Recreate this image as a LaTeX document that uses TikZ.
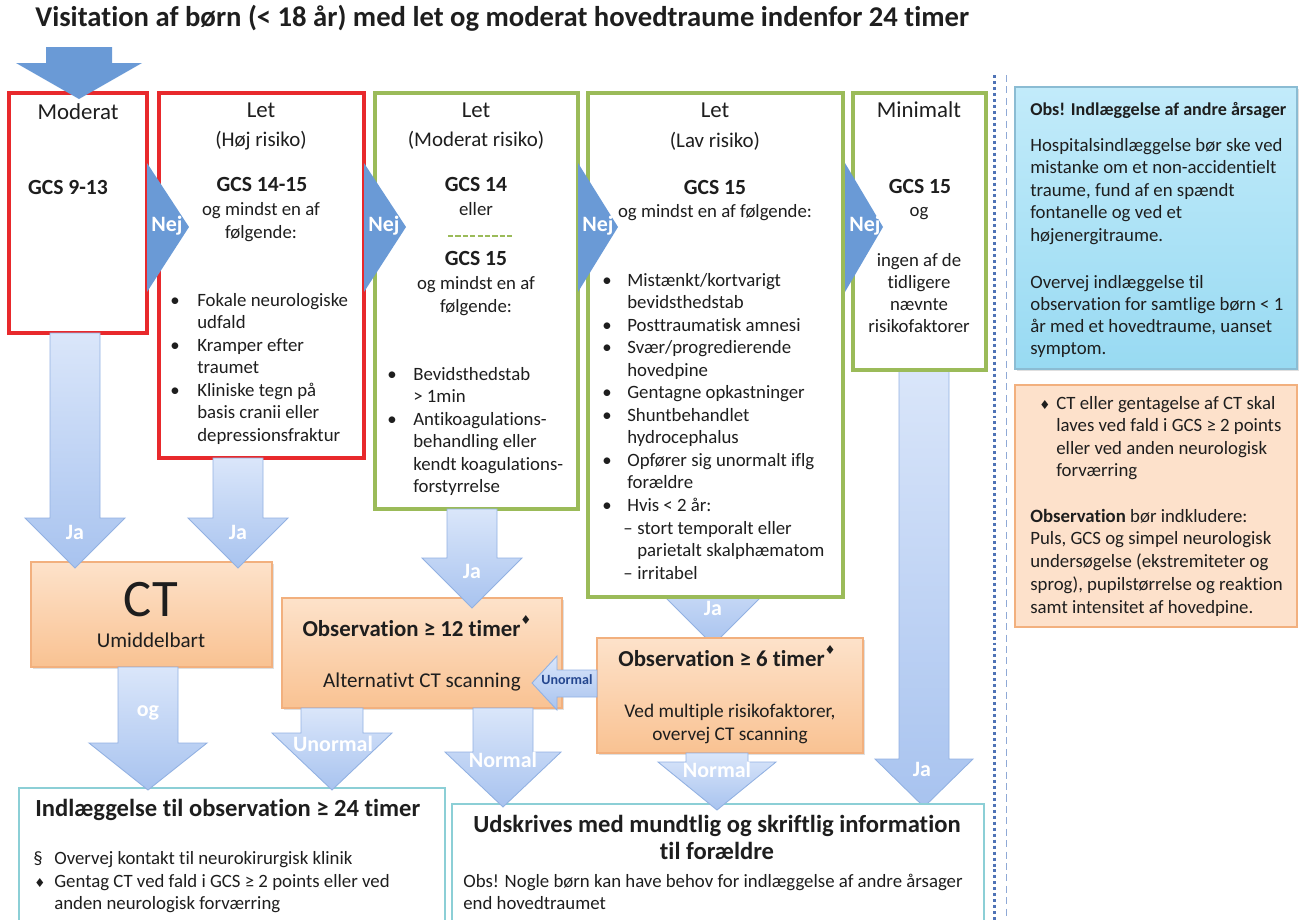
\documentclass[tikz,border=0pt]{standalone}
\usepackage{fontspec}
\setmainfont[Ligatures={NoCommon}]{Carlito}
\newfontfamily\symfont{DejaVu Sans}
\usetikzlibrary{fit,shadows}

\definecolor{riskred}{HTML}{E8292C}
\definecolor{riskgreen}{HTML}{9BBB59}
\definecolor{nejblue}{HTML}{6A9AD6}
\definecolor{shaftlight}{HTML}{DAE6FA}
\definecolor{shaftdark}{HTML}{A8C3EF}
\definecolor{shaftline}{HTML}{92B1E2}
\definecolor{obstop}{HTML}{FDE2CA}
\definecolor{obsbottom}{HTML}{F9C292}
\definecolor{obsline}{HTML}{F2B07E}
\definecolor{infotop}{HTML}{C2EBFA}
\definecolor{infobottom}{HTML}{98DAF2}
\definecolor{infoline}{HTML}{8BBCD3}
\definecolor{infoorange}{HTML}{FDE1CB}
\definecolor{endline}{HTML}{8CCFD6}
\definecolor{ink}{HTML}{1E1E1E}
\definecolor{dotblue}{HTML}{4F73B6}
\definecolor{dashblue}{HTML}{8FA9D6}
\definecolor{unormalink}{HTML}{24478F}

\tikzset{
  redbox/.style={draw=riskred, line width=1.9pt, fill=white, inner sep=0pt},
  greenbox/.style={draw=riskgreen, line width=1.9pt, fill=white, inner sep=0pt},
  obsbox/.style={draw=obsline, line width=0.6pt, top color=obstop, bottom color=obsbottom,
    inner sep=0pt, drop shadow={opacity=0.25, shadow xshift=1.2pt, shadow yshift=-1.2pt}},
  endbox/.style={draw=endline, line width=0.9pt, fill=white, inner sep=0pt},
  bluenote/.style={draw=infoline, line width=0.6pt, top color=infotop, bottom color=infobottom,
    inner sep=0pt, drop shadow={opacity=0.25, shadow xshift=1.2pt, shadow yshift=-1.2pt}},
  orangenote/.style={draw=obsline, line width=0.6pt, fill=infoorange, inner sep=0pt},
  shaft/.style={draw=shaftline, line width=0.5pt, top color=shaftlight, bottom color=shaftdark},
  headtxt/.style={font=\fontsize{13}{15}\selectfont, text=ink, inner sep=0pt, anchor=mid},
  subtxt/.style={font=\fontsize{11.9}{14}\selectfont, text=ink, inner sep=0pt, anchor=mid},
  gcstxt/.style={font=\bfseries\fontsize{12.3}{14}\selectfont, text=ink, inner sep=0pt, anchor=mid},
  bodytxt/.style={font=\fontsize{10.7}{12.8}\selectfont, text=ink, inner sep=0pt, anchor=mid},
  leftbody/.style={bodytxt, anchor=mid west},
  boldtitle/.style={font=\bfseries\fontsize{14}{16}\selectfont, text=ink, inner sep=0pt, anchor=mid},
  labeltxt/.style={font=\bfseries\fontsize{12.5}{14}\selectfont, text=white, inner sep=0pt, anchor=mid},
}

% block arrow pointing down: [style]{x}{y top}{y head}{y tip}{half shaft}{half head}
\newcommand{\blockdown}[7][shaft]{%
  \path[#1] ({#2-#6},#3) -- ({#2+#6},#3) -- ({#2+#6},#4) -- ({#2+#7},#4)
    -- (#2,#5) -- ({#2-#7},#4) -- ({#2-#6},#4) -- cycle;}
\newcommand{\dia}{{\symfont\fontsize{7}{7}\selectfont ♦}}

\begin{document}
\begin{tikzpicture}[x=0.02cm, y=-0.02cm]

    % the frame
    \useasboundingbox (0,0) rectangle (1299,920);
    \clip (0,0) rectangle (1299,920);

    \node[anchor=mid west, inner sep=0pt, text=ink, font=\bfseries\fontsize{16.3}{18}\selectfont]
        (title) at (35,22) {Visitation af børn (< 18 år) med let og moderat hovedtraume indenfor 24 timer};

    % separator
    \draw[dotblue, line width=1.7pt, dash pattern=on 1.7pt off 1.7pt] (994,75) -- (994,920);
    \draw[dashblue, line width=0.5pt, dash pattern=on 4pt off 2.5pt] (1006,75) -- (1006,920);

    % arrows hidden behind the boxes
    \blockdown{713}{560}{597}{645}{24}{48}
    \blockdown{924}{365}{759}{807}{25}{49}

    % the risk boxes
    \node[redbox, fit={(9,93) (147,333)}] (moderat) {};
    \node[redbox, fit={(159,93) (364,458)}] (hoj) {};
    \node[greenbox, fit={(375,93) (578,509)}] (modrisk) {};
    \node[greenbox, fit={(588,93) (843,597)}] (lav) {};
    \node[greenbox, fit={(853,93) (986,370)}] (minimalt) {};

    \blockdown[fill=nejblue]{79}{47}{63}{99}{33}{63}

    % result boxes
    \node[obsbox, fit={(31,562) (272,667)}] (ct) {};
    \node[obsbox, fit={(282,598) (562,708)}] (obs12) {};
    \node[obsbox, fit={(597,638) (863,753)}] (obs6) {};
    \node[endbox, fit={(19,788) (445,940)}] (indl) {};
    \node[endbox, fit={(452,804) (984,940)}] (udskr) {};
    \node[bluenote, fit={(1015,87) (1297,369)}] (infoblue) {};
    \node[orangenote, fit={(1015,385) (1297,627)}] (infoorange) {};

    % arrows between the boxes
    \blockdown{75}{333}{518}{568}{25}{50}
    \blockdown{238}{458}{518}{568}{25}{50}
    \blockdown{472}{509}{558}{608}{25}{50}
    \blockdown{148}{667}{743}{790}{30}{59}
    \blockdown{332}{708}{733}{790}{31}{60}
    \blockdown{503}{708}{752}{807}{30}{58}
    \blockdown{717}{753}{762}{810}{31}{59}
    \path[shaft] (597,670) -- (557,670) -- (557,656) -- (532,683) -- (557,710)
        -- (557,697) -- (597,697) -- cycle;

    \node[labeltxt] (ja1) at (75,535) {Ja};
    \node[labeltxt] (ja2) at (238,535) {Ja};
    \node[labeltxt] (ja3) at (472,574) {Ja};
    \node[labeltxt] (ja4) at (713,611) {Ja};
    \node[labeltxt] (ja5) at (922,772) {Ja};
    \node[labeltxt] (og) at (148,712) {og};
    \node[labeltxt] (unormal) at (333,747) {Unormal};
    \node[labeltxt] (normal1) at (503,763) {Normal};
    \node[labeltxt] (normal2) at (717,773) {Normal};
    \node[font=\bfseries\fontsize{8}{9}\selectfont, text=unormalink, inner sep=0pt]
        (unormal6) at (567,680) {Unormal};

    % nej
    \foreach \l/\t in {147/189, 364/406, 578/618, 845/883} {
        \fill[nejblue] (\l,163) -- (\t,227) -- (\l,292) -- cycle;
        \node[labeltxt] (nej-\l) at ({\l+20},227) {Nej};
    }

    % moderat
    \node[headtxt] (moderat-t) at (78,115) {Moderat};
    \node[gcstxt] (moderat-gcs) at (68,190) {GCS 9-13};

    % let, hoj risiko
    \node[headtxt] (hoj-t) at (261,113) {Let};
    \node[subtxt] (hoj-s) at (261,142) {(Høj risiko)};
    \node[gcstxt] (hoj-gcs) at (262,187) {GCS 14-15};
    \node[bodytxt] (hoj-a) at (261,211) {og mindst en af};
    \node[bodytxt] (hoj-b) at (261,234) {følgende:};
    \foreach \t [count=\i from 0] in {Fokale neurologiske, udfald, Kramper efter, traumet,
        Kliniske tegn på, basis cranii eller, depressionsfraktur}
        \node[leftbody] (hoj-\i) at (197,{302+22.5*\i}) {\t};
    \foreach \i in {0,2,4}
        \node[bodytxt] (hojb-\i) at (175,{302+22.5*\i}) {•};

    % let, moderat risiko
    \node[headtxt] (mod-t) at (476,113) {Let};
    \node[subtxt] (mod-s) at (476,142) {(Moderat risiko)};
    \node[gcstxt] (mod-gcs) at (476,187) {GCS 14};
    \node[bodytxt] (mod-e) at (476,211) {eller};
    \draw[riskgreen, line width=1pt, dash pattern=on 3pt off 1.2pt] (448,236) -- (513,236);
    \node[gcstxt] (mod-gcs2) at (476,261) {GCS 15};
    \node[bodytxt] (mod-a) at (476,285) {og mindst en af};
    \node[bodytxt] (mod-b) at (476,308) {følgende:};
    \foreach \t [count=\i from 0] in {Bevidsthedstab, > 1min, Antikoagulations-,
        behandling eller, kendt koagulations-, forstyrrelse}
        \node[leftbody] (mod-\i) at (413,{376+22.5*\i}) {\t};
    \foreach \i in {0,2}
        \node[bodytxt] (modb-\i) at (392,{376+22.5*\i}) {•};

    % let, lav risiko
    \node[headtxt] (lav-t) at (715,113) {Let};
    \node[subtxt] (lav-s) at (715,143) {(Lav risiko)};
    \node[gcstxt] (lav-gcs) at (715,190) {GCS 15};
    \node[bodytxt] (lav-a) at (715,213) {og mindst en af følgende:};
    \foreach \t [count=\i from 0] in {Mistænkt/kortvarigt, bevidsthedstab, Posttraumatisk amnesi,
        Svær/progredierende, hovedpine, Gentagne opkastninger, Shuntbehandlet, hydrocephalus,
        Opfører sig unormalt iflg, forældre, Hvis < 2 år:}
        \node[leftbody] (lav-\i) at (627,{282+22.5*\i}) {\t};
    \foreach \i in {0,2,3,5,6,8,10}
        \node[bodytxt] (lavb-\i) at (607,{282+22.5*\i}) {•};
    \node[leftbody] (lav-d1) at (623,530) {–};
    \node[leftbody] (lav-11) at (637,530) {stort temporalt eller};
    \node[leftbody] (lav-12) at (637,552) {parietalt skalphæmatom};
    \node[leftbody] (lav-d2) at (623,575) {–};
    \node[leftbody] (lav-13) at (637,575) {irritabel};

    % minimalt
    \node[headtxt] (min-t) at (919,113) {Minimalt};
    \node[gcstxt] (min-gcs) at (920,189) {GCS 15};
    \node[bodytxt] (min-og) at (919,212) {og};
    \foreach \t [count=\i from 0] in {ingen af de, tidligere, nævnte, risikofaktorer}
        \node[bodytxt] (min-\i) at (919,{262+22*\i}) {\t};

    % ct and observation
    \node[inner sep=0pt, text=ink, font=\fontsize{30}{32}\selectfont] (ct-t) at (151,600) {CT};
    \node[bodytxt, font=\fontsize{12}{14}\selectfont] (ct-u) at (151,643) {Umiddelbart};
    \node[boldtitle, font=\bfseries\fontsize{13}{15}\selectfont] (obs12-t) at (417,632)
        {Observation ≥ 12 timer\raisebox{1.1ex}{\dia}};
    \node[bodytxt, font=\fontsize{12}{14}\selectfont] (obs12-a) at (422,683) {Alternativt CT scanning};
    \node[boldtitle, font=\bfseries\fontsize{13}{15}\selectfont] (obs6-t) at (727,662)
        {Observation ≥ 6 timer\raisebox{1.1ex}{\dia}};
    \node[bodytxt, font=\fontsize{11}{13}\selectfont] (obs6-a) at (730,713) {Ved multiple risikofaktorer,};
    \node[bodytxt, font=\fontsize{11}{13}\selectfont] (obs6-b) at (730,736) {overvej CT scanning};

    % indlaeggelse
    \node[boldtitle, anchor=mid west] (indl-t) at (35,812) {Indlæggelse til observation ≥ 24 timer};
    \node[leftbody] (indl-p) at (33,860) {§};
    \node[leftbody] (indl-0) at (54,860) {Overvej kontakt til neurokirurgisk klinik};
    \node[leftbody] (indl-d) at (34,883) {\dia};
    \node[leftbody] (indl-1) at (54,883) {Gentag CT ved fald i GCS ≥ 2 points eller ved};
    \node[leftbody] (indl-2) at (54,905) {anden neurologisk forværring};

    % udskrives
    \node[boldtitle] (udskr-t) at (717,828) {Udskrives med mundtlig og skriftlig information};
    \node[boldtitle] (udskr-u) at (717,855) {til forældre};
    \node[leftbody] (udskr-0) at (463,883) {Obs! Nogle børn kan have behov for indlæggelse af andre årsager};
    \node[leftbody] (udskr-1) at (463,905) {end hovedtraumet};

    % notes
    \node[leftbody, font=\bfseries\fontsize{10.3}{12.8}\selectfont] (blue-t) at (1030,111)
        {Obs! Indlæggelse af andre årsager};
    \foreach \t [count=\i from 0] in {Hospitalsindlæggelse bør ske ved, mistanke om et non-accidentielt,
        {traume, fund af en spændt}, fontanelle og ved et, højenergitraume.}
        \node[leftbody] (blue-\i) at (1030,{147+22.5*\i}) {\t};
    \foreach \t [count=\i from 0] in {Overvej indlæggelse til, observation for samtlige børn < 1,
        {år med et hovedtraume, uanset}, symptom.}
        \node[leftbody] (bluex-\i) at (1030,{284+22*\i}) {\t};
    \node[leftbody] (orange-d) at (1039,405) {\dia};
    \foreach \t [count=\i from 0] in {CT eller gentagelse af CT skal, laves ved fald i GCS ≥ 2 points,
        eller ved anden neurologisk, forværring}
        \node[leftbody] (orange-\i) at (1056,{405+22.5*\i}) {\t};
    \foreach \t [count=\i from 0] in {\textbf{Observation} bør indkludere:, {Puls, GCS og simpel neurologisk},
        undersøgelse (ekstremiteter og, {sprog), pupilstørrelse og reaktion}, samt intensitet af hovedpine.}
        \node[leftbody] (orangex-\i) at (1030,{518+22.7*\i}) {\t};

\end{tikzpicture}
\end{document}
